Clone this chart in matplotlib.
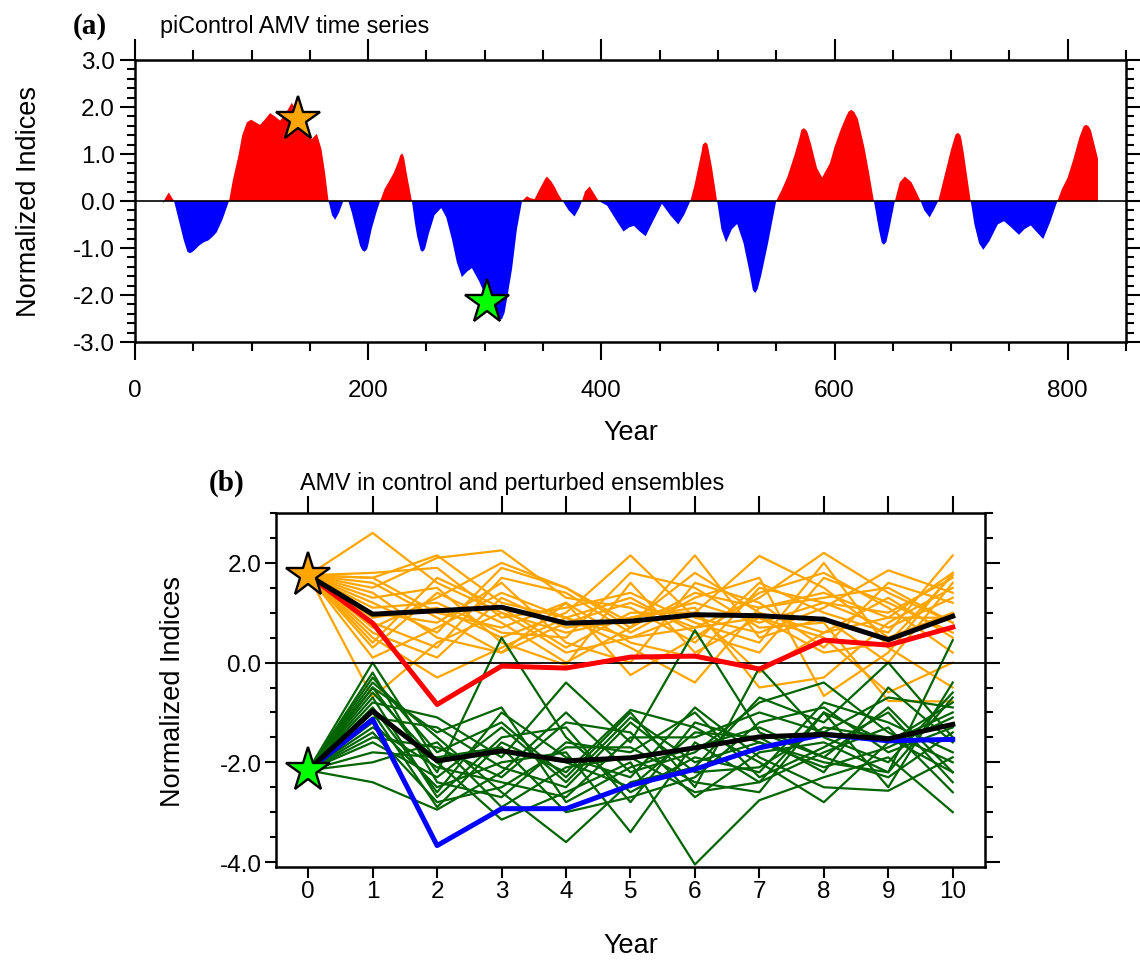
import numpy as np
import matplotlib
matplotlib.use("Agg")
import matplotlib.pyplot as plt
from matplotlib.ticker import MultipleLocator, FixedLocator

plt.rcParams['font.family'] = ['Liberation Sans', 'DejaVu Sans']

# ---------------- Panel (a) data: piControl AMV index ----------------
amv_years = [24, 26, 29, 33.5, 38, 42, 47, 51, 55, 59, 63, 67, 70, 75, 80.7, 84, 88.7, 92,
             95.9, 99.6, 103, 107.3, 111, 115.9, 120, 124.5, 129, 134.5, 140, 146, 151.7, 156,
             160, 163, 166, 169, 171.7, 175, 178.8, 180, 183, 186, 190, 193, 196.9, 200, 203,
             207, 210.3, 214, 217.5, 222, 226, 228.9, 231, 233, 237.5, 240, 242, 246.6, 249,
             252, 257, 262.7, 267, 271.8, 276, 280.4, 285, 289, 295, 300.4, 305, 310, 314.7,
             319, 323.4, 327.6, 332, 336.2, 339, 342.8, 347, 352, 353.4, 357, 360, 363, 366.8,
             372, 377, 381, 383.4, 386, 390, 394, 397.7, 405, 412, 419, 424, 428, 433, 438,
             445, 452, 459, 466, 471, 476.4, 480, 483, 486, 489.3, 492, 495, 499.3, 503, 507,
             512, 516.5, 522, 527, 532, 537, 543, 550, 555, 559.4, 566, 570, 573.7, 577, 580,
             585, 589.4, 596, 600, 605, 610, 614.6, 620, 626, 630, 633.8, 638, 642.4, 647,
             651.8, 656, 660.4, 666, 670, 673.8, 677, 681.6, 685, 689, 695, 700, 703, 706,
             709, 711, 716.8, 720, 724, 727.6, 733, 740, 745.4, 751, 758.2, 763, 768.3, 773,
             779, 785, 791.2, 795, 800, 805, 810, 813, 816, 820, 824, 826]
amv_values = [-0.05, 0.06, 0.18, 0.0, -0.45, -0.85, -1.11, -1.05, -0.95, -0.88, -0.84, -0.75,
              -0.67, -0.40, 0.0, 0.45, 0.96, 1.40, 1.67, 1.73, 1.68, 1.62, 1.72, 1.87, 1.80,
              1.71, 1.85, 2.09, 1.85, 1.50, 1.32, 1.43, 1.10, 0.61, 0.0, -0.30, -0.40, -0.25,
              0.0, 0.02, 0.0, -0.25, -0.65, -0.95, -1.08, -0.95, -0.60, -0.25, 0.0, 0.25, 0.40,
              0.60, 0.85, 1.01, 0.90, 0.60, 0.0, -0.45, -0.75, -1.08, -1.00, -0.70, -0.30,
              -0.15, -0.35, -0.81, -1.30, -1.62, -1.50, -1.43, -1.70, -2.00, -2.25, -2.45,
              -2.52, -2.10, -1.45, -0.60, 0.0, 0.10, 0.06, 0.04, 0.25, 0.48, 0.52, 0.42, 0.30,
              0.15, 0.0, -0.20, -0.33, -0.15, 0.0, 0.20, 0.31, 0.15, 0.0, -0.10, -0.38, -0.65,
              -0.56, -0.53, -0.65, -0.75, -0.40, -0.06, -0.30, -0.50, -0.30, 0.0, 0.35, 0.70,
              1.05, 1.25, 1.10, 0.70, 0.0, -0.60, -0.88, -0.60, -0.49, -0.90, -1.50, -1.96,
              -1.60, -0.90, 0.0, 0.25, 0.50, 1.00, 1.35, 1.55, 1.45, 1.20, 0.70, 0.50, 0.80,
              1.15, 1.50, 1.80, 1.94, 1.75, 1.10, 0.55, 0.0, -0.60, -0.93, -0.60, 0.0, 0.40,
              0.52, 0.40, 0.20, 0.0, -0.20, -0.35, -0.20, 0.0, 0.60, 1.10, 1.35, 1.45, 1.30,
              1.00, 0.0, -0.50, -0.90, -1.04, -0.85, -0.50, -0.43, -0.55, -0.72, -0.60, -0.52,
              -0.65, -0.81, -0.45, 0.0, 0.25, 0.50, 0.90, 1.35, 1.55, 1.62, 1.50, 1.10, 0.90]
# additional readings around the rounded peaks and troughs
amv_peak_years = [45, 49, 195, 199, 227.5, 230, 245, 248, 312.5, 317, 487, 491, 530, 534,
                  571.5, 576, 612, 617, 640.5, 644.5, 704, 708, 814, 818]
amv_peak_values = [-1.08, -1.09, -1.05, -1.03, 0.97, 0.98, -1.05, -1.05, -2.50, -2.38, 1.20,
                   1.21, -1.90, -1.88, 1.51, 1.50, 1.90, 1.89, -0.89, -0.87, 1.42, 1.40, 1.60,
                   1.59]
star_a_years = [140, 302]
star_a_values = [1.75, -2.16]

# ---------------- Panel (b) data: control and perturbed ensembles ----------------
lead_years = list(range(11))
warm_start = 1.75
cold_start = -2.16
orange_members = [
    [2.60, 1.60, 1.00, 0.60, 0.90, 1.20, 0.80, 1.20, 1.00, 1.70],
    [1.70, 2.15, 1.20, 0.90, 0.50, 0.70, 1.30, 2.20, 1.40, 0.80],
    [1.50, 2.10, 2.25, 1.30, 1.10, 0.40, 1.60, 1.00, 0.60, 2.15],
    [1.20, 0.60, 1.90, 1.50, 0.80, 1.80, 1.00, 0.60, 0.90, 1.80],
    [0.90, 1.10, 0.50, 1.00, 2.15, 0.90, 0.60, 1.10, 1.85, 1.40],
    [-0.70, 0.40, 1.00, 0.20, 0.50, 1.00, 2.14, 1.50, 0.50, 1.00],
    [0.50, -0.30, 0.30, 0.90, 1.30, 0.60, 0.20, 1.70, 1.20, 0.60],
    [1.00, 0.80, 1.60, 0.40, 0.00, 1.60, 1.20, 0.30, 1.60, 1.20],
    [0.30, 1.40, 0.80, 0.00, 0.70, 2.15, 0.50, 0.90, 0.00, 1.60],
    [1.60, 0.90, 0.20, 1.20, -0.25, 0.50, 1.40, 1.80, 1.10, 0.20],
    [0.60, 0.10, 1.30, 0.70, 0.90, 1.10, -0.50, -0.30, 0.80, 1.50],
    [1.30, 1.50, 0.40, -0.05, 1.60, 0.20, 0.90, 0.50, -0.60, 0.00],
    [0.10, 0.70, 1.40, 0.90, 0.30, -0.40, 1.10, 1.30, 1.50, 0.80],
    [1.80, 1.90, 0.90, 1.10, 1.40, 0.80, 0.40, 2.00, 0.30, -0.50],
    [0.80, 0.30, 1.70, 1.40, 0.60, 1.30, 1.70, -0.67, 0.20, 1.80],
    [1.10, 1.20, 0.60, 0.50, 1.80, 1.50, 0.70, 0.80, -0.77, -0.78],
    [1.70, 1.00, 0.70, 1.20, 0.40, 0.10, 1.50, 1.20, 0.70, 1.30],
    [0.40, 1.70, 1.10, 0.30, 1.00, 1.00, -0.20, 0.60, 1.30, 0.50],
    [1.40, 0.50, 0.20, 0.80, 1.20, 0.70, 0.90, 0.20, 0.40, 1.75],
    [0.70, 1.30, 2.00, 1.50, 0.70, 1.40, 1.10, 1.40, 0.90, 0.90],
]
green_members = [
    [-0.30, -1.80, -1.20, -2.30, -1.00, -2.50, -0.10, -1.50, -2.00, -0.60],
    [-0.50, -2.20, 0.50, -1.50, -2.60, -1.90, -2.20, -0.80, -1.20, -1.80],
    [-0.80, -1.10, -1.90, -0.40, -1.60, 0.65, -1.40, -1.90, -0.90, -2.20],
    [-1.00, -2.90, -1.60, -2.20, -0.95, -1.30, -2.00, -2.80, -1.60, -1.00],
    [-0.40, -1.50, -2.60, -3.60, -2.40, -2.10, -0.70, -1.20, 0.00, -1.50],
    [-1.20, -2.50, -2.00, -1.80, -3.40, -1.60, -2.40, -1.00, -2.50, -0.40],
    [-0.60, -2.00, -3.15, -2.60, -2.00, -4.05, -2.76, -2.30, -1.90, -3.00],
    [-1.50, -1.70, -2.30, -1.20, -1.40, -2.70, -1.80, -1.60, -2.20, 0.45],
    [-2.40, -2.95, -2.20, -1.00, -2.20, -1.80, -0.80, -0.40, -1.40, -2.00],
    [-1.60, -2.30, -1.30, -2.40, -1.10, -2.00, -1.60, -2.10, -1.70, -1.10],
    [-0.20, -2.40, -2.70, -1.60, -1.80, -1.00, -2.30, -1.70, -1.00, -2.40],
    [-1.80, -1.90, -1.70, -3.00, -2.70, -2.30, -1.20, -0.90, -1.80, -1.30],
    [-0.90, -2.60, -1.00, -1.90, -2.30, -0.90, -1.90, -2.50, -2.57, -1.90],
    [-1.30, -2.10, -2.40, -2.70, -1.50, -1.50, -1.00, -1.40, -0.70, -0.90],
    [-2.00, -1.60, -2.90, -2.10, -1.90, -2.60, -2.40, -1.80, -1.30, -2.60],
    [-0.70, -2.70, -1.50, -1.30, -2.80, -1.20, -1.60, -2.00, -2.20, -0.70],
    [-1.10, -1.30, -2.10, -2.50, -1.20, -2.20, -2.10, -1.30, -1.50, -2.20],
    [0.00, -2.00, -1.80, -2.00, -2.50, -1.40, -1.50, -2.20, -0.50, -1.60],
    [-1.40, -2.80, -2.50, -1.70, -1.70, -2.40, -2.60, -1.00, -1.60, -0.80],
    [-0.50, -1.40, -0.90, -2.80, -2.10, -1.70, -1.30, -1.90, -2.30, -1.40],
]
warm_mean = [1.75, 0.97, 1.04, 1.11, 0.79, 0.83, 0.96, 0.94, 0.87, 0.46, 0.93]
warm_control = [1.75, 0.79, -0.84, -0.07, -0.11, 0.11, 0.13, -0.13, 0.45, 0.35, 0.71]
cold_mean = [-2.16, -0.97, -1.97, -1.77, -1.97, -1.91, -1.71, -1.49, -1.44, -1.53, -1.24]
cold_control = [-2.16, -1.14, -3.67, -2.93, -2.93, -2.46, -2.14, -1.71, -1.44, -1.57, -1.54]

TICK_FS = 17.5
LABEL_FS = 19.5
TITLE_FS = 16.8
PANEL_FS = 21

# ---------------- Figure ----------------
fig = plt.figure(figsize=(11.4, 9.62), dpi=100)


def style_axes(ax, xlen, xpad, ylen, ypad, xtop_len, yright_len, minor_ratio=0.5):
    for s in ax.spines.values():
        s.set_linewidth(1.8)
    ax.tick_params(which='both', direction='out', top=True, right=True,
                   width=1.5, labelsize=TICK_FS)
    ax.tick_params(axis='x', which='major', length=xlen, pad=xpad)
    ax.tick_params(axis='x', which='minor', length=xlen * minor_ratio)
    ax.tick_params(axis='y', which='major', length=ylen, pad=ypad)
    ax.tick_params(axis='y', which='minor', length=ylen * minor_ratio)
    for t in ax.xaxis.get_major_ticks():
        t.tick2line.set_markersize(xtop_len)
    for t in ax.xaxis.get_minor_ticks():
        t.tick2line.set_markersize(xtop_len * minor_ratio)
    for t in ax.yaxis.get_major_ticks():
        t.tick2line.set_markersize(yright_len)
    for t in ax.yaxis.get_minor_ticks():
        t.tick2line.set_markersize(yright_len * minor_ratio)


# Panel (a)
axa = fig.add_axes([0.1184, 0.6435, 0.8693, 0.2931])
x_all = np.array(amv_years + amv_peak_years, dtype=float)
y_all = np.array(amv_values + amv_peak_values, dtype=float)
order = np.argsort(x_all)
x = x_all[order]
y = y_all[order]
axa.fill_between(x, y, 0, where=y >= 0, interpolate=True, color='#FF0000', lw=0)
axa.fill_between(x, y, 0, where=y <= 0, interpolate=True, color='#0000FF', lw=0)
axa.axhline(0, color='black', lw=1.2, zorder=3)
axa.plot(star_a_years[0], star_a_values[0], marker='*', ms=33, mfc='#FFA500',
         mec='black', mew=1.7, zorder=5, clip_on=False)
axa.plot(star_a_years[1], star_a_values[1], marker='*', ms=33, mfc='#00FF00',
         mec='black', mew=1.7, zorder=5, clip_on=False)
axa.set_xlim(0, 850)
axa.set_ylim(-3.0, 3.0)
axa.xaxis.set_major_locator(FixedLocator([0, 200, 400, 600, 800]))
axa.xaxis.set_minor_locator(MultipleLocator(50))
axa.yaxis.set_major_locator(FixedLocator([-3, -2, -1, 0, 1, 2, 3]))
axa.yaxis.set_minor_locator(FixedLocator(list(np.arange(-3.0, 3.01, 0.2))))
axa.set_yticklabels(["-3.0", "-2.0", "-1.0", "0.0", "1.0", "2.0", "3.0"])
style_axes(axa, xlen=13, xpad=14, ylen=11, ypad=3.5, xtop_len=15, yright_len=11)
axa.set_xlabel("Year", fontsize=LABEL_FS)
axa.xaxis.set_label_coords(0.5, -0.275)
axa.set_ylabel("Normalized Indices", fontsize=LABEL_FS)
axa.yaxis.set_label_coords(-0.094, 0.5)
fig.text(0.064, 0.9655, "(a)", family=['Liberation Serif', 'DejaVu Serif'],
         fontweight='bold', fontsize=PANEL_FS, ha='left', va='baseline')
fig.text(0.140, 0.9655, "piControl AMV time series", fontsize=TITLE_FS, ha='left',
         va='baseline')

# Panel (b)
axb = fig.add_axes([0.2421, 0.0977, 0.6219, 0.3680])
for row in orange_members:
    axb.plot(lead_years, [warm_start] + row, color='#FFA500', lw=1.6, zorder=2)
for row in green_members:
    axb.plot(lead_years, [cold_start] + row, color='#006400', lw=1.6, zorder=2)
axb.axhline(0, color='black', lw=1.3, zorder=3)
axb.plot(lead_years, warm_control, color='#FF0000', lw=3.6, zorder=4)
axb.plot(lead_years, cold_control, color='#0000FF', lw=3.6, zorder=4)
axb.plot(lead_years, warm_mean, color='black', lw=3.6, zorder=4)
axb.plot(lead_years, cold_mean, color='black', lw=3.6, zorder=4)
axb.plot(0, warm_start, marker='*', ms=33, mfc='#FFA500', mec='black', mew=1.7,
         zorder=6, clip_on=False)
axb.plot(0, cold_start, marker='*', ms=33, mfc='#00FF00', mec='black', mew=1.7,
         zorder=6, clip_on=False)
axb.set_xlim(-0.5, 10.5)
axb.set_ylim(-4.1, 3.0)
axb.xaxis.set_major_locator(MultipleLocator(1))
axb.yaxis.set_major_locator(FixedLocator([-4.0, -2.0, 0.0, 2.0]))
axb.yaxis.set_minor_locator(FixedLocator(list(np.arange(-4.0, 3.01, 0.5))))
axb.set_yticklabels(["-4.0", "-2.0", "0.0", "2.0"])
style_axes(axb, xlen=8, xpad=1.5, ylen=8, ypad=2.5, xtop_len=12, yright_len=11)
axb.set_xlabel("Year", fontsize=LABEL_FS)
axb.xaxis.set_label_coords(0.5, -0.183)
axb.set_ylabel("Normalized Indices", fontsize=LABEL_FS)
axb.yaxis.set_label_coords(-0.127, 0.5)
fig.text(0.183, 0.4895, "(b)", family=['Liberation Serif', 'DejaVu Serif'],
         fontweight='bold', fontsize=PANEL_FS, ha='left', va='baseline')
fig.text(0.263, 0.4905, "AMV in control and perturbed ensembles", fontsize=TITLE_FS,
         ha='left', va='baseline')

fig.savefig("out.png", dpi=100)
